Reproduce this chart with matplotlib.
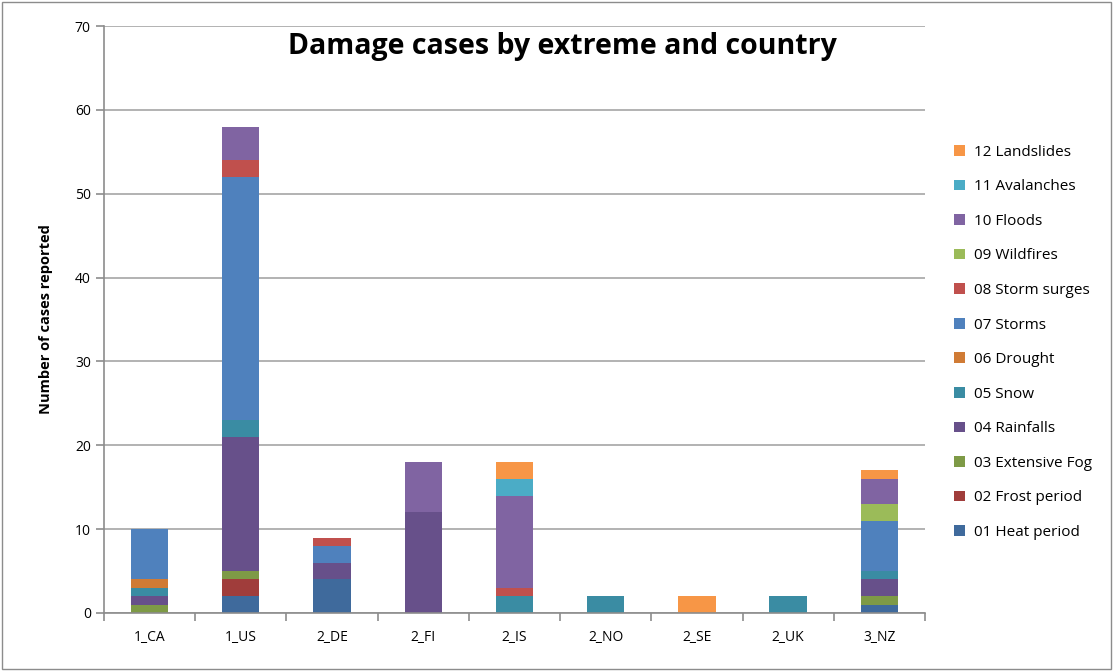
import matplotlib.pyplot as plt
import numpy as np
from matplotlib.patches import Rectangle

plt.rcParams['font.family'] = ['Open Sans', 'DejaVu Sans']

countries = ['1_CA', '1_US', '2_DE', '2_FI', '2_IS', '2_NO', '2_SE', '2_UK', '3_NZ']
extremes = ['01 Heat period', '02 Frost period', '03 Extensive Fog', '04 Rainfalls',
            '05 Snow', '06 Drought', '07 Storms', '08 Storm surges', '09 Wildfires',
            '10 Floods', '11 Avalanches', '12 Landslides']

# cases per extreme, one value per country
heat        = [0, 2, 4, 0, 0, 0, 0, 0, 1]
frost       = [0, 2, 0, 0, 0, 0, 0, 0, 0]
fog         = [1, 1, 0, 0, 0, 0, 0, 0, 1]
rainfalls   = [1, 16, 2, 12, 0, 0, 0, 0, 2]
snow        = [1, 2, 0, 0, 2, 2, 0, 2, 1]
drought     = [1, 0, 0, 0, 0, 0, 0, 0, 0]
storms      = [6, 29, 2, 0, 0, 0, 0, 0, 6]
surges      = [0, 2, 1, 0, 1, 0, 0, 0, 0]
wildfires   = [0, 0, 0, 0, 0, 0, 0, 0, 2]
floods      = [0, 4, 0, 6, 11, 0, 0, 0, 3]
avalanches  = [0, 0, 0, 0, 2, 0, 0, 0, 0]
landslides  = [0, 0, 0, 0, 2, 0, 2, 0, 1]

colors = ['#3F6A9C', '#A03D3B', '#7E9A46', '#67508A', '#3A8CA3', '#D07B35',
          '#4F81BD', '#C0504D', '#9BBB59', '#8064A2', '#4BACC6', '#F79646']

series = [heat, frost, fog, rainfalls, snow, drought, storms, surges,
          wildfires, floods, avalanches, landslides]

fig = plt.figure(figsize=(11.13, 6.72), dpi=100)
ax = fig.add_axes([0.0934, 0.0878, 0.7377, 0.8735])

x = np.arange(len(countries))
bottom = np.zeros(len(countries))
handles = []
for name, vals, col in zip(extremes, series, colors):
    vals = np.array(vals, dtype=float)
    b = ax.bar(x, vals, 0.41, bottom=bottom, color=col, label=name, linewidth=0)
    handles.append(b)
    bottom += vals

ax.set_xlim(-0.5, len(countries) - 0.5)
ax.set_ylim(0, 70)
ax.set_yticks(range(0, 71, 10))
ax.yaxis.grid(True, color='#A6A6A6', linewidth=1.2)
ax.set_axisbelow(True)

ax.set_xticks(x)
ax.set_xticklabels(countries, fontsize=10)
ax.set_xticks(np.arange(-0.5, len(countries)), minor=True)
ax.tick_params(axis='x', which='major', length=0, pad=12)
ax.tick_params(axis='x', which='minor', length=6, color='#8C8C8C', width=1.2)
ax.tick_params(axis='y', labelsize=10, length=6, color='#8C8C8C', width=1.2)

for s in ['top', 'right']:
    ax.spines[s].set_visible(False)
ax.spines['left'].set_color('#8C8C8C')
ax.spines['bottom'].set_color('#8C8C8C')
ax.spines['left'].set_linewidth(1.2)
ax.spines['bottom'].set_linewidth(1.2)

ax.set_ylabel('Number of cases reported', fontsize=10.5, fontweight='bold', labelpad=16)
ax.text(0.558, 0.965, 'Damage cases by extreme and country', transform=ax.transAxes,
        ha='center', va='center', fontsize=20.5, fontweight='bold')

leg = fig.legend(handles[::-1], extremes[::-1], loc='upper left',
                 bbox_to_anchor=(0.845, 0.805), frameon=False, fontsize=11,
                 handlelength=0.7, handleheight=0.7, handletextpad=0.6,
                 labelspacing=1.28)

fig.patches.append(Rectangle((0.002, 0.004), 0.996, 0.993, transform=fig.transFigure,
                             fill=False, edgecolor='#8C8C8C', linewidth=1))

fig.savefig('out.png', dpi=100)
